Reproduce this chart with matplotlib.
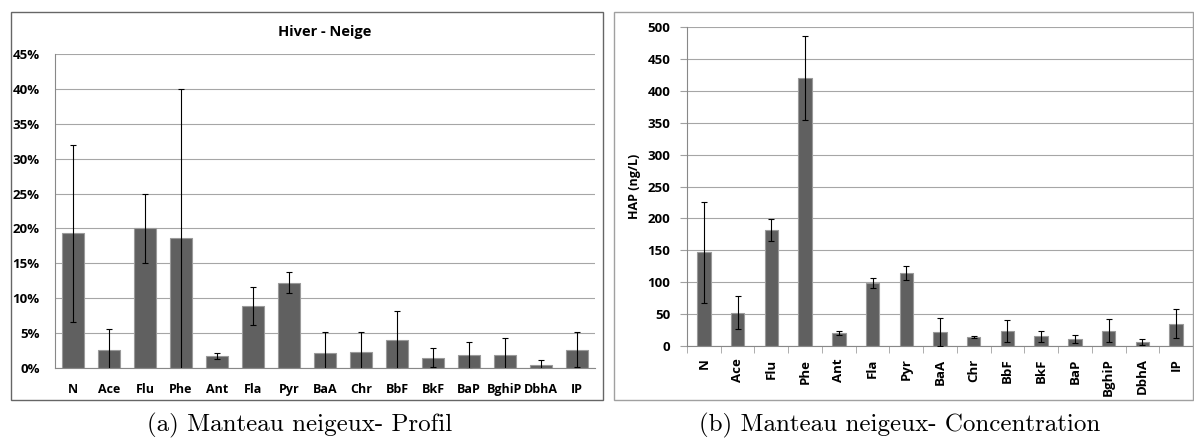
import matplotlib.pyplot as plt
from matplotlib.patches import Rectangle
import numpy as np

compounds = ['N', 'Ace', 'Flu', 'Phe', 'Ant', 'Fla', 'Pyr', 'BaA', 'Chr',
             'BbF', 'BkF', 'BaP', 'BghiP', 'DbhA', 'IP']

# (a) profile, percent
profil = [19.3, 2.55, 20.0, 18.6, 1.7, 8.9, 12.2, 2.2, 2.3, 4.0, 1.5, 1.8, 1.9, 0.5, 2.6]
profil_err = [12.7, 3.0, 4.9, 21.4, 0.4, 2.7, 1.5, 2.9, 2.8, 4.1, 1.4, 1.9, 2.4, 0.6, 2.5]

# (b) concentration, ng/L
conc = [147, 52, 182, 420, 20, 99, 115, 22, 14, 24, 15, 11, 24, 6, 35]
conc_err = [79, 26, 17, 66, 3, 8, 11, 22, 2, 17, 9, 6, 18, 5, 23]

BAR = '#606060'
EDGE = '#9a9a9a'
GRID = '#a6a6a6'
FONT = 'Open Sans'

fig = plt.figure(figsize=(11.94, 4.43), dpi=100)
W, H = 1194, 443


def box(x0, y0, x1, y1):
    # pixel box -> figure fraction [left, bottom, width, height]
    return [x0 / W, 1 - y1 / H, (x1 - x0) / W, (y1 - y0) / H]


# outer frames
fig.add_artist(Rectangle((11 / W, 1 - 400 / H), 592 / W, 388 / H, transform=fig.transFigure,
                         fill=False, edgecolor='#666666', linewidth=1.0))
fig.add_artist(Rectangle((614 / W, 1 - 400 / H), 579 / W, 388 / H, transform=fig.transFigure,
                         fill=False, edgecolor='#a0a0a0', linewidth=1.0))

x = np.arange(len(compounds))
tick_font = dict(fontfamily=FONT, fontweight='bold', fontsize=9.5)

# ---- (a) ----
ax1 = fig.add_axes(box(55, 54, 595, 368))
ax1.bar(x, profil, width=0.6, color=BAR, edgecolor=EDGE, linewidth=0.8, zorder=2)
ax1.errorbar(x, profil, yerr=profil_err, fmt='none', ecolor='black', elinewidth=0.8,
             capsize=2, capthick=0.8, zorder=3)
ax1.set_xlim(-0.5, len(compounds) - 0.5)
ax1.set_ylim(0, 45)
ax1.set_yticks(np.arange(0, 46, 5))
ax1.set_yticklabels([f'{v}%' for v in range(0, 46, 5)], **tick_font)
ax1.set_xticks(x)
ax1.set_xticklabels(compounds, fontfamily=FONT, fontweight='bold', fontsize=9)
ax1.tick_params(axis='both', length=0)
ax1.tick_params(axis='y', pad=11)
ax1.tick_params(axis='x', pad=11)
ax1.grid(axis='y', color=GRID, linewidth=0.8, zorder=0)
ax1.set_axisbelow(True)
for s in ['top', 'right']:
    ax1.spines[s].set_visible(False)
for s in ['left', 'bottom']:
    ax1.spines[s].set_color('#888888')
ax1.set_title('Hiver - Neige', fontfamily=FONT, fontweight='bold', fontsize=10.5, pad=13)

# ---- (b) ----
ax2 = fig.add_axes(box(687, 27, 1193, 346))
ax2.bar(x, conc, width=0.4, color=BAR, edgecolor=EDGE, linewidth=0.8, zorder=2)
ax2.errorbar(x, conc, yerr=conc_err, fmt='none', ecolor='black', elinewidth=0.8,
             capsize=2, capthick=0.8, zorder=3)
ax2.set_xlim(-0.5, len(compounds) - 0.5)
ax2.set_ylim(0, 500)
ax2.set_yticks(np.arange(0, 501, 50))
ax2.set_yticklabels([str(v) for v in range(0, 501, 50)], **tick_font)
ax2.set_xticks(x)
ax2.set_xticklabels(compounds, rotation=90, **tick_font)
ax2.set_xticks(np.arange(-0.5, len(compounds), 1), minor=True)
ax2.tick_params(axis='x', which='major', length=0, pad=9)
ax2.tick_params(axis='x', which='minor', length=5, color='#a0a0a0')
ax2.tick_params(axis='y', length=5, color='#a0a0a0', pad=7)
ax2.grid(axis='y', color=GRID, linewidth=0.8, zorder=0)
ax2.set_axisbelow(True)
for s in ['top', 'right']:
    ax2.spines[s].set_visible(False)
for s in ['left', 'bottom']:
    ax2.spines[s].set_color('#888888')
ax2.set_ylabel('HAP (ng/L)', fontfamily=FONT, fontweight='bold', fontsize=9, labelpad=5)

# captions
cap_font = dict(ha='center', va='center', fontfamily='cmr10', fontsize=18)
fig.text(300 / W, 1 - 425 / H, '(a) Manteau neigeux- Profil', **cap_font)
fig.text(900 / W, 1 - 425 / H, '(b) Manteau neigeux- Concentration', **cap_font)

fig.savefig('out.png', dpi=100)
